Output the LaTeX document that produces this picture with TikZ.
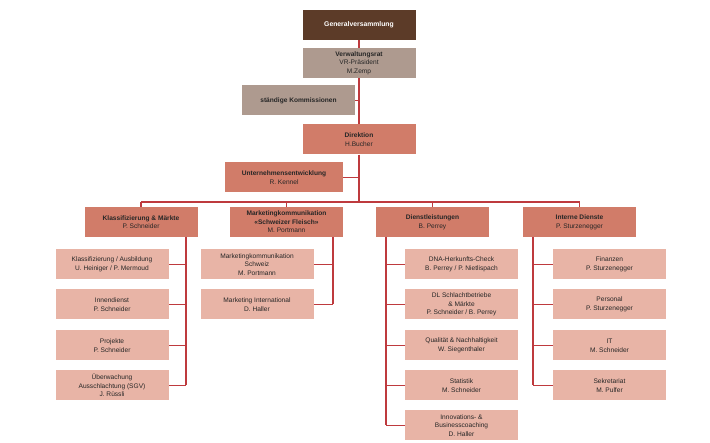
\documentclass[tikz,border=0pt]{standalone}
\usepackage{fontspec}
\setmainfont{Liberation Sans}
\usetikzlibrary{positioning}
\definecolor{gvbrown}{HTML}{5C3B28}
\definecolor{vrgrey}{HTML}{AE9A8F}
\definecolor{headred}{HTML}{D17C69}
\definecolor{subpink}{HTML}{E8B4A6}
\definecolor{linered}{HTML}{BE3A3E}
\tikzset{
	box/.style={shape=rectangle, minimum width=113pt, minimum height=30pt, inner sep=1pt, align=center, font=\fontsize{6.6}{8.6}\selectfont, text=black!85},
	gvbox/.style={box, fill=gvbrown, text=white, font=\fontsize{6.8}{8.6}\selectfont\bfseries},
	vrbox/.style={box, fill=vrgrey},
	headbox/.style={box, fill=headred},
	subbox/.style={box, fill=subpink},
	link/.style={draw=linered, line width=1.2pt}
}
\begin{document}
\begin{tikzpicture}[x=1pt, y=-1pt]
	\useasboundingbox (0,0) rectangle (710,443);

	% top line
	\node[gvbox] (GV) at (359, 25) {Generalversammlung};
	\node[vrbox] (VR) at (359, 63) {\textbf{Verwaltungsrat}\\VR-Präsident\\M.Zemp};
	\node[vrbox] (SK) at (298.5, 100.5) {\textbf{ständige Kommissionen}};
	\node[headbox] (DIR) at (359, 139.5) {\textbf{Direktion}\\H.Bucher};
	\node[headbox, minimum width=118pt] (UE) at (284, 177.5) {\textbf{Unternehmensentwicklung}\\R. Kennel};

	% departments
	\node[headbox] (KM) at (141, 222) {\textbf{Klassifizierung \& Märkte}\\P. Schneider};
	\node[headbox] (MK) at (286.5, 222) {\textbf{Marketingkommunikation}\\\textbf{«Schweizer Fleisch»}\\M. Portmann};
	\node[headbox] (DL) at (432.5, 222) {\textbf{Dienstleistungen}\\B. Perrey};
	\node[headbox] (ID) at (579.5, 222) {\textbf{Interne Dienste}\\P. Sturzenegger};

	% Klassifizierung
	\node[subbox] (KM1) at (112, 264.5) {Klassifizierung / Ausbildung\\U. Heiniger / P. Mermoud};
	\node[subbox] (KM2) at (112, 304.5) {Innendienst\\P. Schneider};
	\node[subbox] (KM3) at (112, 345.5) {Projekte\\P. Schneider};
	\node[subbox] (KM4) at (112, 385.5) {Überwachung\\Ausschlachtung (SGV)\\J. Rüssli};

	% Marketing
	\node[subbox] (MK1) at (257, 264.5) {Marketingkommunikation\\Schweiz\\M. Portmann};
	\node[subbox] (MK2) at (257, 304.5) {Marketing International\\D. Haller};

	% Dienstleistungen
	\node[subbox] (DL1) at (461.5, 264.5) {DNA-Herkunfts-Check\\B. Perrey / P. Nietlispach};
	\node[subbox] (DL2) at (461.5, 304.5) {DL Schlachtbetriebe\\\& Märkte\\P. Schneider / B. Perrey};
	\node[subbox] (DL3) at (461.5, 345.5) {Qualität \& Nachhaltigkeit\\W. Siegenthaler};
	\node[subbox] (DL4) at (461.5, 385.5) {Statistik\\M. Schneider};
	\node[subbox] (DL5) at (461.5, 425.5) {Innovations- \&\\Businesscoaching\\D. Haller};

	% Interne Dienste
	\node[subbox] (ID1) at (609.5, 264.5) {Finanzen\\P. Sturzenegger};
	\node[subbox] (ID2) at (609.5, 304.5) {Personal\\P. Sturzenegger};
	\node[subbox] (ID3) at (609.5, 345.5) {IT\\M. Schneider};
	\node[subbox] (ID4) at (609.5, 385.5) {Sekretariat\\M. Pulfer};

	% connectors
	\coordinate (bus) at (359, 202);
	\path[link] (GV) -- (VR);
	\path[link] (VR) -- (DIR);
	\path[link] (SK.east) -- (SK.east -| VR.south);
	\path[link] (DIR.south) -- (bus);
	\path[link] (UE.east) -- (UE.east -| DIR.south);
	\path[link] (KM.north |- bus) -- (ID.north |- bus);
	\foreach \dep in {KM, MK, DL, ID}
		\path[link] (\dep.north |- bus) -- (\dep.north);

	\foreach \dep/\x/\last in {KM/186/4, MK/333/2, DL/386/5, ID/533/4} {
		\path[link] (\x, 237) -- (\x, 0 |- \dep\last.west);
		\foreach \i in {1,...,\last}
			\path[link] (\x, 0 |- \dep\i.west) -- (\dep\i);
	}
\end{tikzpicture}
\end{document}
